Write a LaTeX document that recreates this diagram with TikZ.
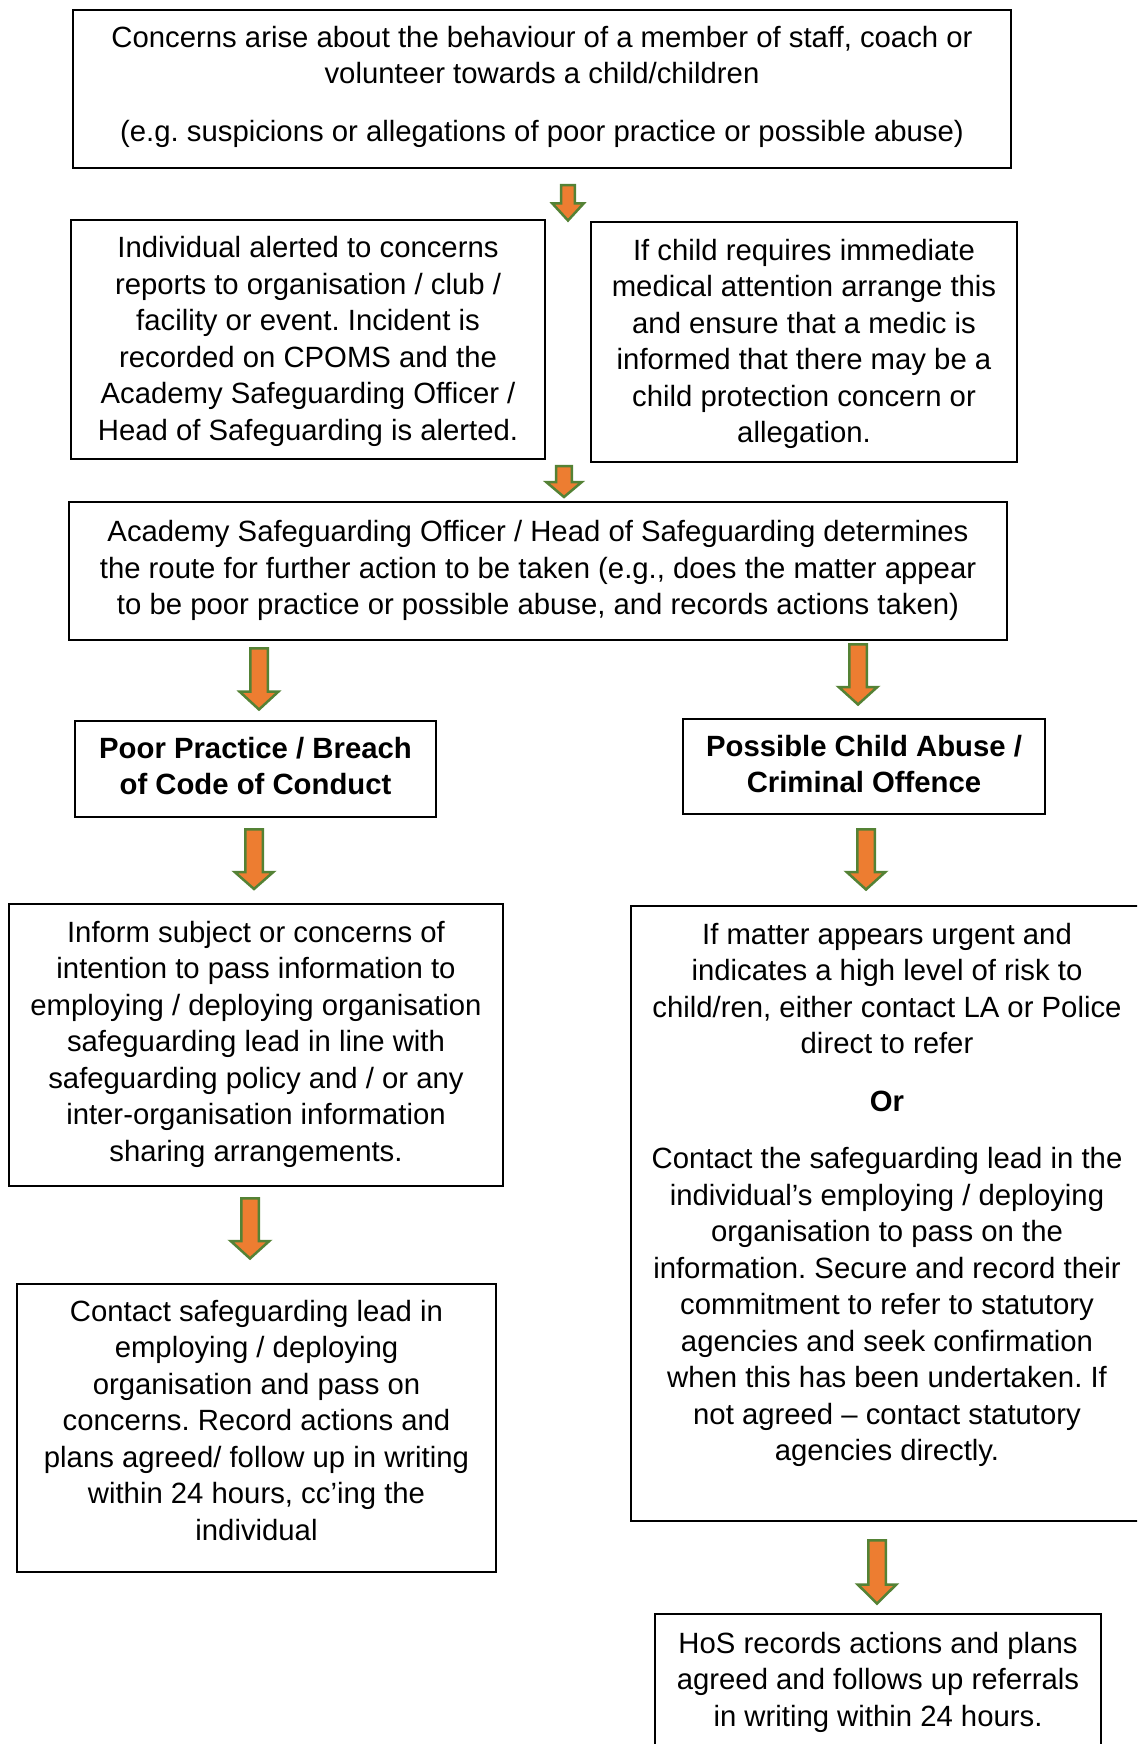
\documentclass[tikz,border=0pt]{standalone}
\usepackage{fontspec}
\setmainfont{Liberation Sans}
\frenchspacing
\definecolor{arrfill}{HTML}{ED7D31}
\definecolor{arrline}{HTML}{548235}
\newcommand\fl{\rule{0pt}{25pt}}
% block arrow: cx, top, headstart, tip, shaft half width, head half width
\newcommand\blockarr[6]{%
  \draw[blockarrow] (#1-#5,#2) -- (#1+#5,#2) -- (#1+#5,#3) -- (#1+#6,#3) -- (#1,#4)
    -- (#1-#6,#3) -- (#1-#5,#3) -- cycle;}
\tikzset{
  box/.style={draw=black, line width=1.2pt, inner sep=0pt, rectangle},
  txt/.style={align=center, inner sep=0pt, anchor=north,
    font=\fontsize{29.3}{36.5}\selectfont\frenchspacing},
  btxt/.style={txt, font=\fontsize{29.3}{36.5}\selectfont\bfseries},
  blockarrow/.style={fill=arrfill, draw=arrline, line width=2.5pt}
}
\begin{document}
\begin{tikzpicture}[x=1pt, y=-1pt]
\useasboundingbox (0,0) rectangle (1137,1744);
\clip (0,0) rectangle (1137,1744);
\fill[white] (0,0) rectangle (1137,1744);

% boxes
\node[box, minimum width=938pt, minimum height=158pt] (b1) at (542,89) {};
\node[box, minimum width=474pt, minimum height=239pt] (b2l) at (308,339.5) {};
\node[box, minimum width=426pt, minimum height=240pt] (b2r) at (804,342) {};
\node[box, minimum width=938pt, minimum height=138pt] (b3) at (538,571) {};
\node[box, minimum width=361pt, minimum height=96pt] (pp) at (255.5,769) {};
\node[box, minimum width=362pt, minimum height=95pt] (ca) at (864,766.5) {};
\node[box, minimum width=494pt, minimum height=282pt] (l3) at (256,1045) {};
\node[box, minimum width=512pt, minimum height=615pt] (r3) at (887,1213.5) {};
\node[box, minimum width=479pt, minimum height=288pt] (l4) at (256.5,1428) {};
\node[box, minimum width=446pt, minimum height=156pt] (r4) at (878,1692) {};

% texts
\node[txt] (t1) at (542,22.3) {\fl Concerns arise about the behaviour of a member of staff, coach or\\volunteer towards a child/children\\[21pt](e.g. suspicions or allegations of poor practice or possible abuse)};
\node[txt] (t2l) at (308,232.6) {\fl Individual alerted to concerns\\reports to organisation / club /\\facility or event. Incident is\\recorded on CPOMS and the\\Academy Safeguarding Officer /\\Head of Safeguarding is alerted.};
\node[txt] (t2r) at (804,234.8) {\fl If child requires immediate\\medical attention arrange this\\and ensure that a medic is\\informed that there may be a\\child protection concern or\\allegation.};
\node[txt] (t3) at (538,516.3) {\fl Academy Safeguarding Officer / Head of Safeguarding determines\\the route for further action to be taken (e.g., does the matter appear\\to be poor practice or possible abuse, and records actions taken)};
\node[btxt] (tpp) at (255.5,733) {\fl Poor Practice / Breach\\of Code of Conduct};
\node[btxt] (tca) at (864,731) {\fl Possible Child Abuse /\\Criminal Offence};
\node[txt] (tl3) at (256,917) {\fl Inform subject or concerns of\\intention to pass information to\\employing / deploying organisation\\safeguarding lead in line with\\safeguarding policy and / or any\\inter-organisation information\\sharing arrangements.};
\node[txt] (tr3) at (887,919) {\fl If matter appears urgent and\\indicates a high level of risk to\\child/ren, either contact LA or Police\\direct to refer\\[21pt]\textbf{Or}\\[21pt]Contact the safeguarding lead in the\\individual’s employing / deploying\\organisation to pass on the\\information. Secure and record their\\commitment to refer to statutory\\agencies and seek confirmation\\when this has been undertaken. If\\not agreed – contact statutory\\agencies directly.};
\node[txt] (tl4) at (256.5,1296) {\fl Contact safeguarding lead in\\employing / deploying\\organisation and pass on\\concerns. Record actions and\\plans agreed/ follow up in writing\\within 24 hours, cc’ing the\\individual};
\node[txt] (tr4) at (878,1628) {\fl HoS records actions and plans\\agreed and follows up referrals\\in writing within 24 hours.};

% block arrows
\blockarr{568}{185.2}{203.3}{220.5}{6.8}{15.8}
\blockarr{564}{466}{482}{497}{7.8}{17.8}
\blockarr{259}{648.3}{691.7}{709.5}{8.75}{19.3}
\blockarr{858}{644.3}{687}{704.5}{8.75}{19.3}
\blockarr{254}{829.3}{872}{889}{8.75}{19.3}
\blockarr{866}{829.3}{872}{889.5}{8.75}{19.3}
\blockarr{250}{1198.3}{1241}{1258.5}{8.75}{19.3}
\blockarr{877}{1540.3}{1584.5}{1603.5}{8.75}{19.3}
\end{tikzpicture}
\end{document}
